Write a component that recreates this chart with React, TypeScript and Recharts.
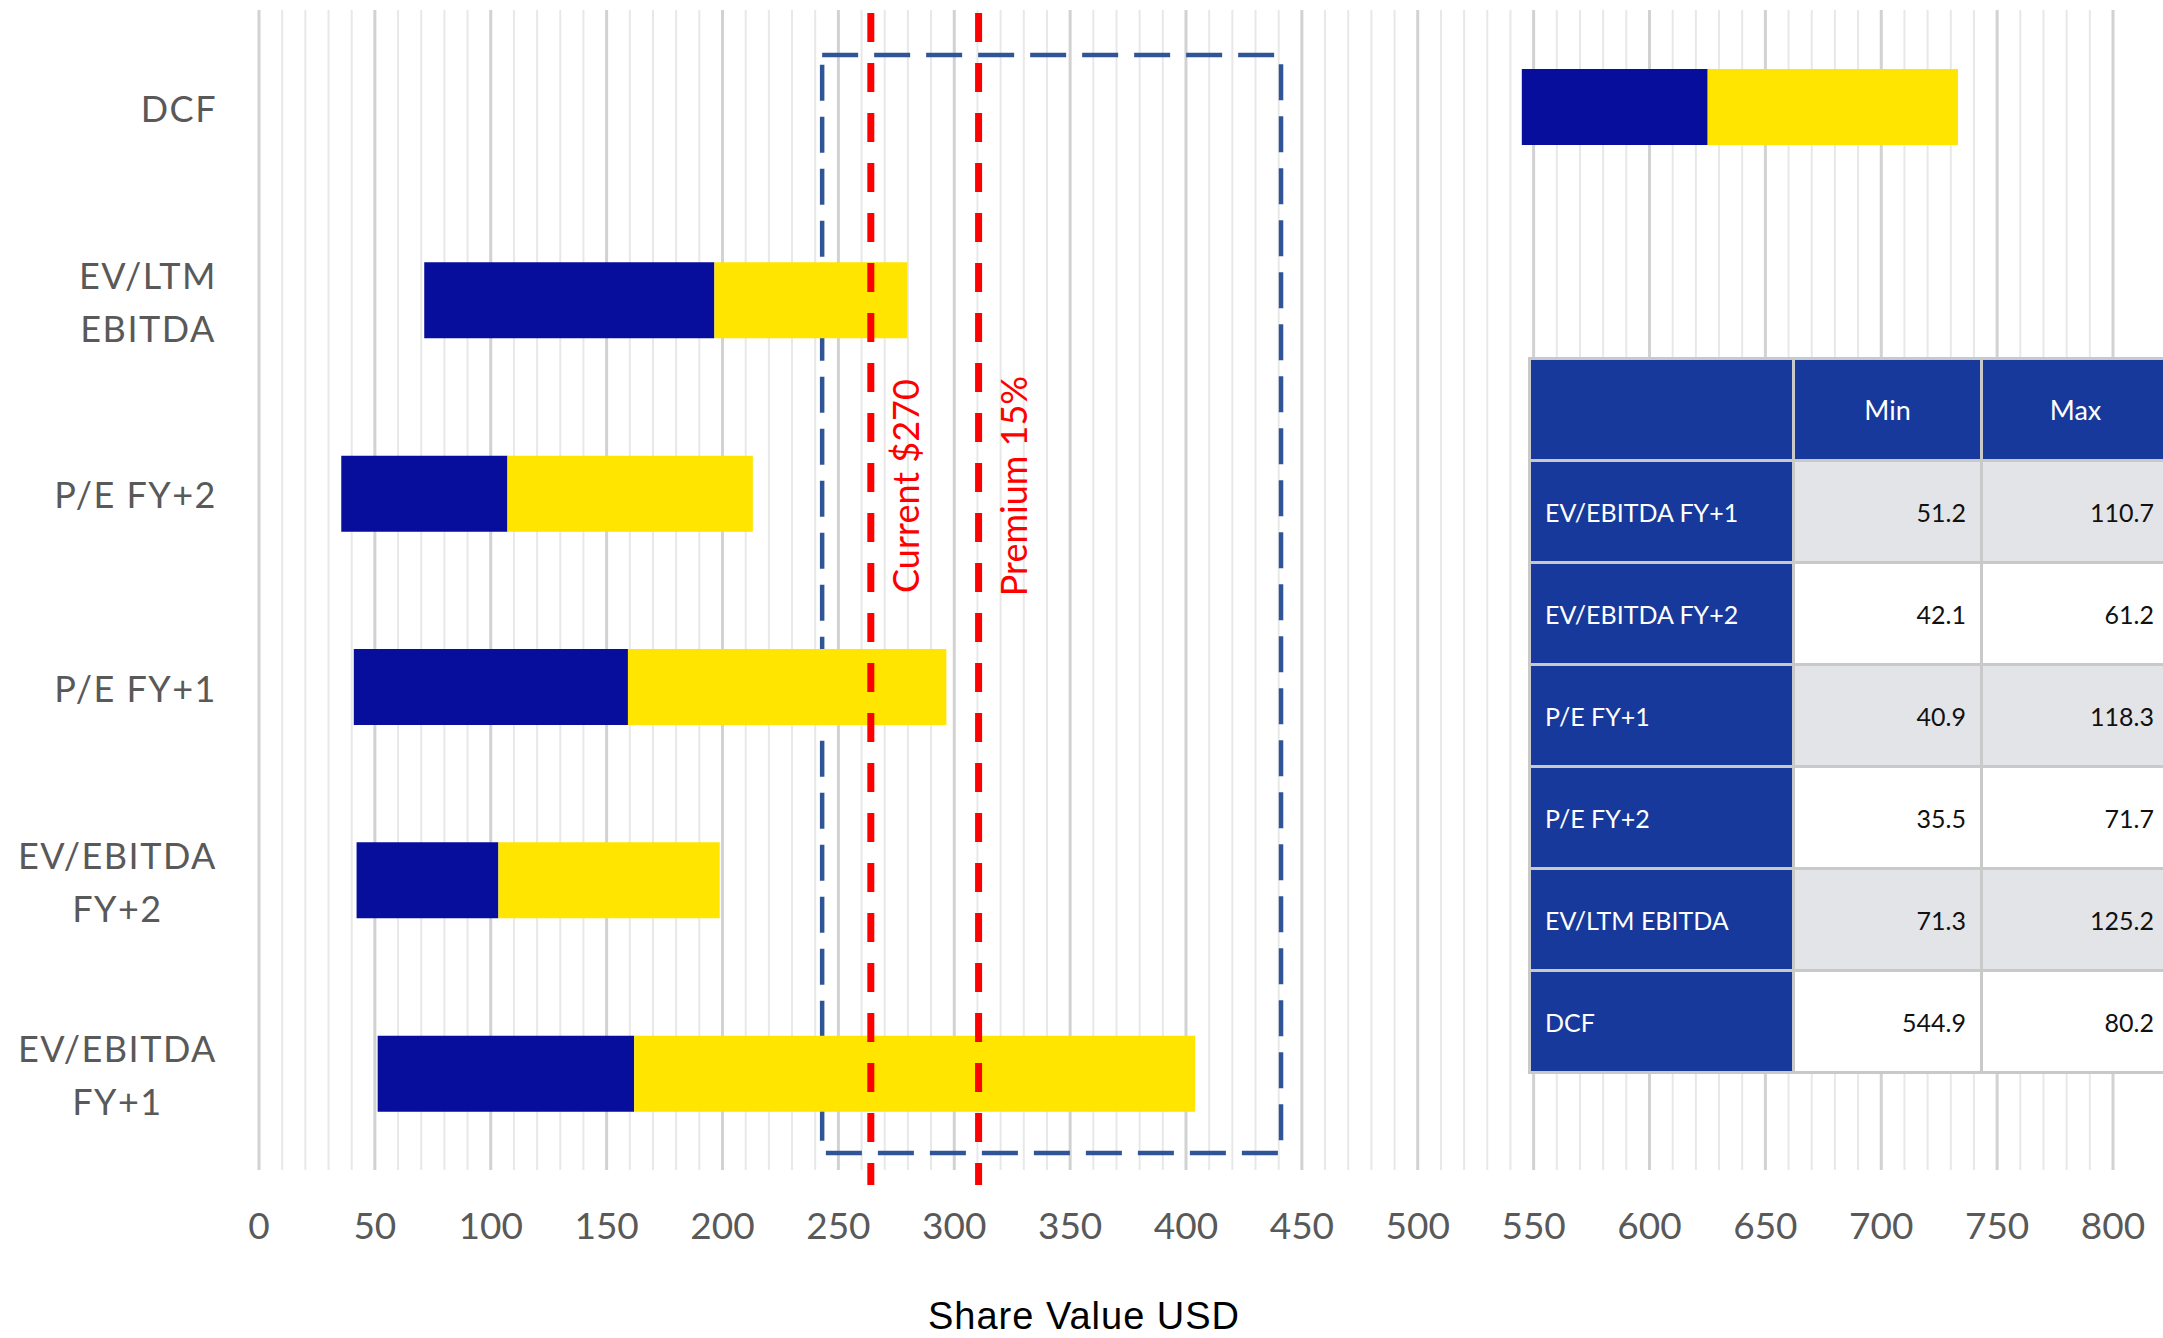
import {
  Bar,
  BarChart,
  CartesianGrid,
  ReferenceArea,
  ReferenceLine,
  XAxis,
  YAxis,
} from "recharts";

// chart rows, top to bottom
const categories = [
  "DCF",
  "EV/LTM EBITDA",
  "P/E FY+2",
  "P/E FY+1",
  "EV/EBITDA FY+2",
  "EV/EBITDA FY+1",
];
const categoryLines = [
  ["DCF"],
  ["EV/LTM", "EBITDA"],
  ["P/E FY+2"],
  ["P/E FY+1"],
  ["EV/EBITDA", "FY+2"],
  ["EV/EBITDA", "FY+1"],
];
// table values: bar starts at Min, blue segment is Max wide
const minValues = [544.9, 71.3, 35.5, 40.9, 42.1, 51.2];
const maxValues = [80.2, 125.2, 71.7, 118.3, 61.2, 110.7];
// right end of the yellow segment
const highValues = [733.1, 279.7, 213.1, 296.6, 198.8, 403.9];

const xTicks = [
  0, 50, 100, 150, 200, 250, 300, 350, 400, 450, 500, 550, 600, 650, 700, 750,
  800,
];
const minorGrid = Array.from({ length: 81 }, (_, i) => i * 10);

const currentPrice = 264;
const premiumPrice = 310.5;
const rangeLow = 243;
const rangeHigh = 441;

const data = categories.map((name, i) => ({
  name,
  base: minValues[i],
  low: maxValues[i],
  high: highValues[i] - minValues[i] - maxValues[i],
}));

const tableRows = categories
  .map((name, i) => ({ name, min: minValues[i], max: maxValues[i] }))
  .reverse();

const BLUE_BAR = "#060E9B";
const YELLOW_BAR = "#FFE500";
const TABLE_BLUE = "#17399B";
const LABEL_GREY = "#595959";
const LABEL_SIZE = 36;

let measureCtx: CanvasRenderingContext2D | null = null;
function textWidth(s: string, font: string, spacing: number) {
  if (!measureCtx) measureCtx = document.createElement("canvas").getContext("2d");
  if (!measureCtx) return s.length * LABEL_SIZE * 0.55;
  measureCtx.font = font;
  return measureCtx.measureText(s).width + spacing * s.length;
}

function CategoryTick(props: any) {
  const { x, y, payload } = props;
  const idx = categories.indexOf(payload.value);
  const lines = idx >= 0 ? categoryLines[idx] : [String(payload.value)];
  const spacing = 1.5;
  const blockWidth = Math.max(
    ...lines.map((l) => textWidth(l, `${LABEL_SIZE}px Lato`, spacing)),
  );
  const cx = x - blockWidth / 2;
  const lineHeight = 53;
  return (
    <g>
      {lines.map((line, i) => (
        <text
          key={i}
          x={cx}
          y={y + (i - (lines.length - 1) / 2) * lineHeight + 15}
          textAnchor="middle"
          fill={LABEL_GREY}
          fontSize={LABEL_SIZE}
          fontFamily="Lato"
          letterSpacing={spacing}
        >
          {line}
        </text>
      ))}
    </g>
  );
}

function VerticalLabel(props: any) {
  const { viewBox, value } = props;
  const tx = viewBox.x + 48;
  const ty = viewBox.y + 476;
  return (
    <text
      x={tx}
      y={ty}
      transform={`rotate(-90, ${tx}, ${ty})`}
      textAnchor="middle"
      fill="#FF0000"
      fontSize={36}
      fontFamily="Lato"
    >
      {value}
    </text>
  );
}

// red dashed marker, running a little past the bottom of the grid
function MarkerLine(props: any) {
  const { x1, y1, x2, y2 } = props;
  return (
    <line
      x1={x1}
      y1={Math.min(y1, y2) + 3}
      x2={x2}
      y2={Math.max(y1, y2) + 15}
      stroke="#FF0000"
      strokeWidth={7}
      strokeDasharray="29 21"
    />
  );
}

// dashed box around the target range, inset from the top and bottom of the plot
function RangeBox(props: any) {
  const { x, y, width, height } = props;
  return (
    <rect
      x={x}
      y={y + 45}
      width={width}
      height={height - 62}
      fill="none"
      stroke="#2F5597"
      strokeWidth={4.5}
      strokeDasharray="36 16"
    />
  );
}

function ValuationTable() {
  const cell = {
    display: "flex",
    alignItems: "center",
    fontFamily: "Lato",
    fontSize: 25,
  } as const;
  return (
    <div
      style={{
        position: "absolute",
        left: 1528,
        top: 357,
        display: "grid",
        gridTemplateColumns: "261px 185px 185px",
        gridAutoRows: "99px",
        gap: 3,
        padding: 3,
        background: "#C9C9C9",
      }}
    >
      <div style={{ ...cell, background: TABLE_BLUE }} />
      <div style={{ ...cell, background: TABLE_BLUE, color: "#fff", justifyContent: "center", fontSize: 27 }}>
        Min
      </div>
      <div style={{ ...cell, background: TABLE_BLUE, color: "#fff", justifyContent: "center", fontSize: 27 }}>
        Max
      </div>
      {tableRows.map((r, i) => {
        const bg = i % 2 === 0 ? "#E3E4E8" : "#FFFFFF";
        return [
          <div
            key={r.name + "n"}
            style={{ ...cell, background: TABLE_BLUE, color: "#fff", paddingLeft: 14 }}
          >
            {r.name}
          </div>,
          <div
            key={r.name + "a"}
            style={{ ...cell, background: bg, color: "#111", justifyContent: "flex-end", paddingRight: 14 }}
          >
            {r.min.toFixed(1)}
          </div>,
          <div
            key={r.name + "b"}
            style={{ ...cell, background: bg, color: "#111", justifyContent: "flex-end", paddingRight: 14 }}
          >
            {r.max.toFixed(1)}
          </div>,
        ];
      })}
    </div>
  );
}

export default function App() {
  return (
    <div
      style={{
        position: "relative",
        width: 2163,
        height: 1338,
        overflow: "hidden",
        background: "#fff",
      }}
    >
      <style>{"body{margin:0}"}</style>
      <BarChart
        width={2163}
        height={1338}
        data={data}
        layout="vertical"
        margin={{ top: 10, right: 50, bottom: 0, left: 0 }}
        barSize={76}
      >
        <CartesianGrid
          horizontal={false}
          verticalValues={minorGrid}
          stroke="#E8E8E8"
          strokeWidth={2}
        />
        <CartesianGrid
          horizontal={false}
          verticalValues={xTicks}
          stroke="#D2D2D2"
          strokeWidth={3}
        />
        <XAxis
          type="number"
          domain={[0, 800]}
          ticks={xTicks}
          interval={0}
          axisLine={false}
          tickLine={false}
          tickSize={0}
          tickMargin={43}
          height={168}
          tick={{ fill: LABEL_GREY, fontSize: 37, fontFamily: "Lato" }}
          label={{
            value: "Share Value USD",
            position: "insideBottom",
            offset: 9,
            dx: -102,
            style: {
              fill: "#000",
              fontSize: 38,
              letterSpacing: 1,
              fontFamily: "Liberation Sans",
            },
          }}
        />
        <YAxis
          type="category"
          dataKey="name"
          width={259}
          axisLine={false}
          tickLine={false}
          tickSize={0}
          tickMargin={42}
          tick={<CategoryTick />}
          interval={0}
        />
        <Bar dataKey="base" stackId="r" fill="transparent" isAnimationActive={false} />
        <Bar dataKey="low" stackId="r" fill={BLUE_BAR} isAnimationActive={false} />
        <Bar dataKey="high" stackId="r" fill={YELLOW_BAR} isAnimationActive={false} />
        <ReferenceArea
          x1={rangeLow}
          x2={rangeHigh}
          shape={<RangeBox />}
          ifOverflow="visible"
        />
        <ReferenceLine
          x={currentPrice}
          shape={<MarkerLine />}
          ifOverflow="visible"
          label={<VerticalLabel value="Current $270" />}
        />
        <ReferenceLine
          x={premiumPrice}
          shape={<MarkerLine />}
          ifOverflow="visible"
          label={<VerticalLabel value="Premium 15%" />}
        />
      </BarChart>
      <ValuationTable />
    </div>
  );
}
